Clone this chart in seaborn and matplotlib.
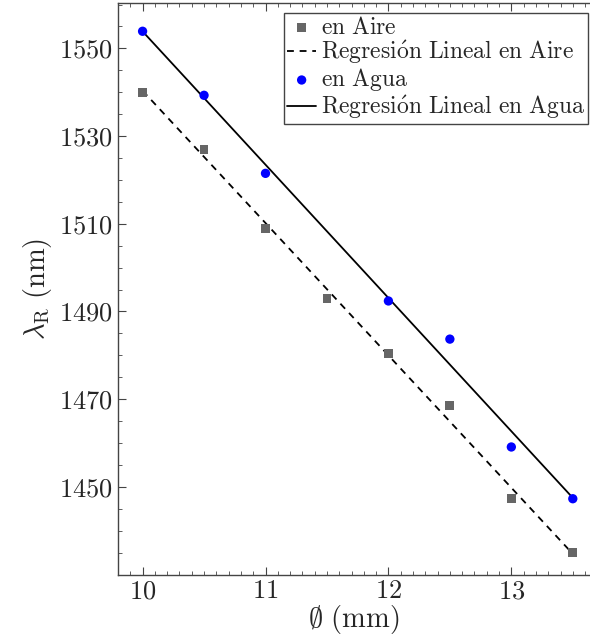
import numpy as np
import pandas as pd
import seaborn as sns
import matplotlib.pyplot as plt
from matplotlib.ticker import MultipleLocator

# diametro (mm) y longitud de onda de resonancia (nm)
d_aire = [10, 10.5, 11, 11.5, 12, 12.5, 13, 13.5]
lam_aire = [1540.0, 1527.0, 1509.0, 1493.0, 1480.5, 1468.5, 1447.3, 1435.0]
d_agua = [10, 10.5, 11, 12, 12.5, 13, 13.5]
lam_agua = [1553.9, 1539.3, 1521.5, 1492.4, 1483.7, 1459.1, 1447.3]

sns.set_style("ticks")
plt.rcParams['font.family'] = ['serif']
plt.rcParams['font.serif'] = ['cmr10', 'DejaVu Serif']
plt.rcParams['mathtext.fontset'] = 'cm'
plt.rcParams['axes.formatter.use_mathtext'] = True

df_aire = pd.DataFrame({"d": d_aire, "lam": lam_aire})
df_agua = pd.DataFrame({"d": d_agua, "lam": lam_agua})

# regresiones lineales
p_aire = np.polyfit(df_aire["d"], df_aire["lam"], 1)
p_agua = np.polyfit(df_agua["d"], df_agua["lam"], 1)
xr = np.array([10, 13.5])
fit_aire = pd.DataFrame({"d": xr, "lam": np.polyval(p_aire, xr)})
fit_agua = pd.DataFrame({"d": xr, "lam": np.polyval(p_agua, xr)})

fig, ax = plt.subplots(figsize=(5.9, 6.42), dpi=100)
fig.subplots_adjust(left=0.2, right=1.0, top=0.995, bottom=0.105)

sns.scatterplot(data=df_aire, x="d", y="lam", ax=ax, marker="s", color="#666666",
                s=40, edgecolor="none", label=r"$\mathrm{en\ Aire}$", zorder=3)
sns.lineplot(data=fit_aire, x="d", y="lam", ax=ax, color="black", linestyle=(0, (3.8, 3.2)),
             linewidth=1.3, label=r"$\mathrm{Regresi\acute{o}n\ Lineal\ en\ Aire}$")
sns.scatterplot(data=df_agua, x="d", y="lam", ax=ax, marker="o", color="#0000ff",
                s=45, edgecolor="none", label=r"$\mathrm{en\ Agua}$", zorder=3)
sns.lineplot(data=fit_agua, x="d", y="lam", ax=ax, color="black", linestyle="-",
             linewidth=1.3, label=r"$\mathrm{Regresi\acute{o}n\ Lineal\ en\ Agua}$")

ax.set_xlim(9.8, 13.64)
ax.set_ylim(1430, 1560.3)
ax.xaxis.set_major_locator(MultipleLocator(1))
ax.xaxis.set_minor_locator(MultipleLocator(0.1))
ax.yaxis.set_major_locator(MultipleLocator(20))
ax.yaxis.set_minor_locator(MultipleLocator(5))
ax.yaxis.set_major_formatter(plt.FuncFormatter(lambda v, p: r"$\mathrm{%d}$" % v))
ax.xaxis.set_major_formatter(plt.FuncFormatter(lambda v, p: r"$\mathrm{%d}$" % v))
ax.set_yticks([1450, 1470, 1490, 1510, 1530, 1550])

ax.tick_params(which="both", direction="in", top=True, right=False, labelsize=19,
               color="#444444")
ax.tick_params(which="major", length=6, width=0.8)
ax.tick_params(which="minor", length=3, width=0.6)
for sp in ax.spines.values():
    sp.set_color("#444444")
    sp.set_linewidth(1.0)
ax.spines["right"].set_visible(False)

ax.set_xlabel(r"$\emptyset\ \mathrm{(mm)}$", fontsize=20.5, labelpad=0)
ax.set_ylabel(r"$\lambda_{\mathrm{R}}\ \mathrm{(nm)}$", fontsize=20.5, labelpad=4)

leg = ax.legend(loc="upper right", bbox_to_anchor=(0.996, 0.983), fontsize=17,
                frameon=True, fancybox=False, handlelength=1.2, handletextpad=0.2,
                borderpad=0.15, labelspacing=0.0, borderaxespad=0.0)
leg.get_frame().set_edgecolor("#444444")
leg.get_frame().set_linewidth(1.0)
leg.get_frame().set_alpha(1)

fig.savefig("out.png", dpi=100)
